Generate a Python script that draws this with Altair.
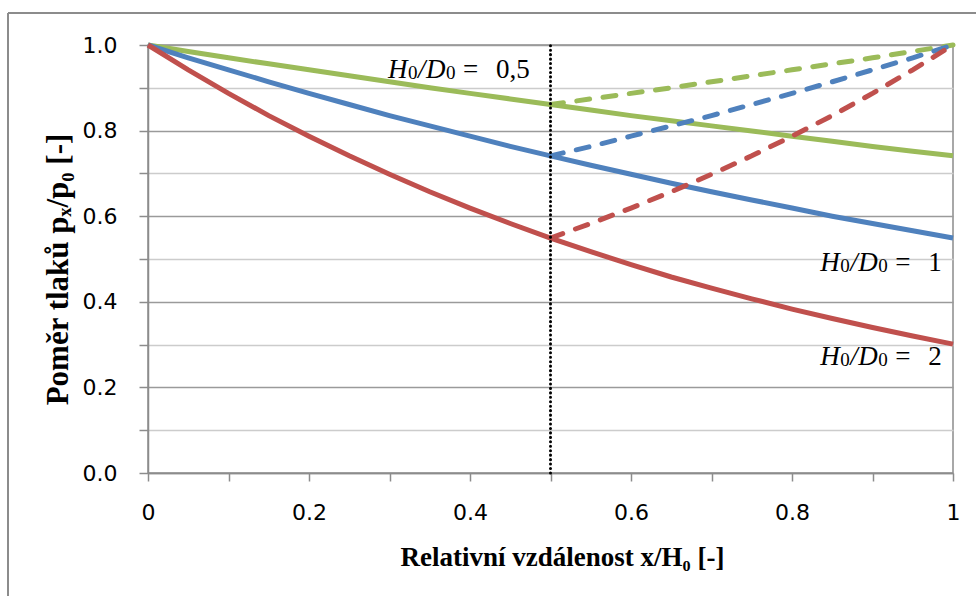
import altair as alt
import pandas as pd

# ---- data ----
x_solid = [0.0, 0.05, 0.1, 0.15, 0.2, 0.25, 0.3, 0.35, 0.4, 0.45, 0.5,
           0.55, 0.6, 0.65, 0.7, 0.75, 0.8, 0.85, 0.9, 0.95, 1.0]
green_solid = [1.000, 0.985, 0.970, 0.956, 0.942, 0.928, 0.914, 0.900, 0.887, 0.874, 0.861,
               0.848, 0.835, 0.823, 0.811, 0.799, 0.787, 0.775, 0.763, 0.752, 0.741]
blue_solid = [1.000, 0.970, 0.942, 0.914, 0.887, 0.861, 0.835, 0.811, 0.787, 0.763, 0.741,
              0.719, 0.698, 0.677, 0.657, 0.638, 0.619, 0.600, 0.583, 0.566, 0.549]
red_solid = [1.000, 0.942, 0.887, 0.835, 0.787, 0.741, 0.698, 0.657, 0.619, 0.583, 0.549,
             0.517, 0.487, 0.458, 0.432, 0.407, 0.383, 0.361, 0.340, 0.320, 0.301]

x_dashed = [0.5, 0.55, 0.6, 0.65, 0.7, 0.75, 0.8, 0.85, 0.9, 0.95, 1.0]
green_dashed = [0.861, 0.874, 0.887, 0.900, 0.914, 0.928, 0.942, 0.956, 0.970, 0.985, 1.000]
blue_dashed = [0.741, 0.763, 0.787, 0.811, 0.835, 0.861, 0.887, 0.914, 0.942, 0.970, 1.000]
red_dashed = [0.549, 0.583, 0.619, 0.657, 0.698, 0.741, 0.787, 0.835, 0.887, 0.942, 1.000]

series_names = ["0,5", "1", "2"]
series_colors = ["#9BBB59", "#4F81BD", "#C0504D"]

marker_x = [0.5]

# annotation "H0/D0 = value": left start and baseline in data units
label_x = [0.298, 0.835, 0.835]
label_y = [0.923, 0.471, 0.252]
label_value = ["0,5", "1", "2"]

tick_values = [0.0, 0.1, 0.2, 0.3, 0.4, 0.5, 0.6, 0.7, 0.8, 0.9, 1.0]

# ---- tables ----
rows = []
for name, ys in zip(series_names, [green_solid, blue_solid, red_solid]):
    for xv, yv in zip(x_solid, ys):
        rows.append({"x": xv, "y": yv, "series": name})
solid_df = pd.DataFrame(rows)

rows = []
for name, ys in zip(series_names, [green_dashed, blue_dashed, red_dashed]):
    for xv, yv in zip(x_dashed, ys):
        rows.append({"x": xv, "y": yv, "series": name})
dashed_df = pd.DataFrame(rows)

marker_df = pd.DataFrame({"x": marker_x, "y0": [0.0], "y1": [1.0]})
label_df = pd.DataFrame({"x": label_x, "y": label_y, "value": label_value})

W, H = 805, 428

x_scale = alt.Scale(domain=[0, 1], nice=False, zero=False)
y_scale = alt.Scale(domain=[0, 1], nice=False, zero=False)
color_scale = alt.Scale(domain=series_names, range=series_colors)

x_axis = alt.Axis(
    values=tick_values,
    labelExpr="round(datum.value*10) % 2 == 0 ? (datum.value == 0 ? '0' : (datum.value == 1 ? '1' : format(datum.value, '.1f'))) : ''",
    grid=False,
    domainColor="#8c8c8c", domainWidth=1.5,
    tickColor="#8c8c8c", tickSize=8, tickWidth=1.5,
    labelFont="DejaVu Sans", labelFontSize=22, labelColor="#000000",
    labelPadding=21, labelFlush=False, labelOverlap=False,
    title="Relativní vzdálenost x/H₀ [-]",
    titleFont="Liberation Serif", titleFontSize=27, titleFontWeight="bold", titleColor="#000000",
    titleX=414, titleY=92, titleBaseline="alphabetic", titleAlign="center",
)
y_axis = alt.Axis(
    values=tick_values,
    labelExpr="round(datum.value*10) % 2 == 0 ? format(datum.value, '.1f') : ''",
    grid=True,
    gridColor={"condition": {"test": "round(datum.value*10) % 2 == 0", "value": "#9a9a9a"}, "value": "#cccccc"},
    gridWidth=1.5,
    domainColor="#8c8c8c", domainWidth=1.5,
    tickColor="#8c8c8c", tickSize=9, tickWidth=1.5,
    labelFont="DejaVu Sans", labelFontSize=22, labelColor="#000000",
    labelPadding=22, labelOverlap=False, labelFlush=False,
    title="Poměr tlaků pₓ/p₀ [-]",
    titleFont="Liberation Serif", titleFontSize=31, titleFontWeight="bold", titleColor="#000000",
    titleAngle=-90, titleX=-90, titleY=224, titleAlign="center", titleBaseline="middle",
)

base_grid = alt.Chart(solid_df).mark_line(opacity=0).encode(
    x=alt.X("x:Q", scale=x_scale, axis=x_axis),
    y=alt.Y("y:Q", scale=y_scale, axis=y_axis),
    detail="series:N",
)

solid = alt.Chart(solid_df).mark_line(strokeWidth=5).encode(
    x=alt.X("x:Q", scale=x_scale),
    y=alt.Y("y:Q", scale=y_scale),
    color=alt.Color("series:N", scale=color_scale, legend=None),
)

dashed = alt.Chart(dashed_df).mark_line(strokeWidth=5, strokeDash=[13, 13.5], strokeCap="round").encode(
    x=alt.X("x:Q", scale=x_scale),
    y=alt.Y("y:Q", scale=y_scale),
    color=alt.Color("series:N", scale=color_scale, legend=None),
)

marker = alt.Chart(marker_df).mark_rule(color="#000000", strokeWidth=3, strokeDash=[0.1, 4.35], strokeCap="round").encode(
    x=alt.X("x:Q", scale=x_scale),
    y=alt.Y("y0:Q", scale=y_scale),
    y2="y1:Q",
)


def label_part(text, dx, size=27, italic=False, dy=0, field=None):
    kw = dict(font="Liberation Serif", fontSize=size, align="left", baseline="alphabetic",
              dx=dx, dy=dy, color="#000000")
    if italic:
        kw["fontStyle"] = "italic"
    enc = dict(x=alt.X("x:Q", scale=x_scale), y=alt.Y("y:Q", scale=y_scale))
    if field is not None:
        enc["text"] = alt.Text(f"{field}:N")
    else:
        kw["text"] = text
    return alt.Chart(label_df).mark_text(**kw).encode(**enc)


labels = [
    label_part("H", 0, italic=True),
    label_part("0", 20, size=19, dy=1),
    label_part("/", 30, italic=True),
    label_part("D", 38, italic=True),
    label_part("0", 58, size=19, dy=1),
    label_part("=", 75),
    label_part(None, 108, field="value"),
]

# outer chart frame (left and top edges visible in the reference)
frame_left = alt.Chart(marker_df).mark_rule(color="#8c8c8c", strokeWidth=2).encode(
    x=alt.value(-140), y=alt.value(-32), y2=alt.value(560)
)
frame_top = alt.Chart(marker_df).mark_rule(color="#8c8c8c", strokeWidth=2).encode(
    x=alt.value(-140), x2=alt.value(840), y=alt.value(-32)
)

chart = alt.layer(
    base_grid, frame_left, frame_top, solid, dashed, marker, *labels
).properties(
    width=W, height=H,
    autosize=alt.AutoSizeParams(type="none"),
    padding={"left": 148, "top": 45, "right": 23, "bottom": 123},
    background="#ffffff",
).configure_view(stroke="#8c8c8c", strokeWidth=1.5)

chart.save("out.html", embed_options={"renderer": "svg", "actions": False})
